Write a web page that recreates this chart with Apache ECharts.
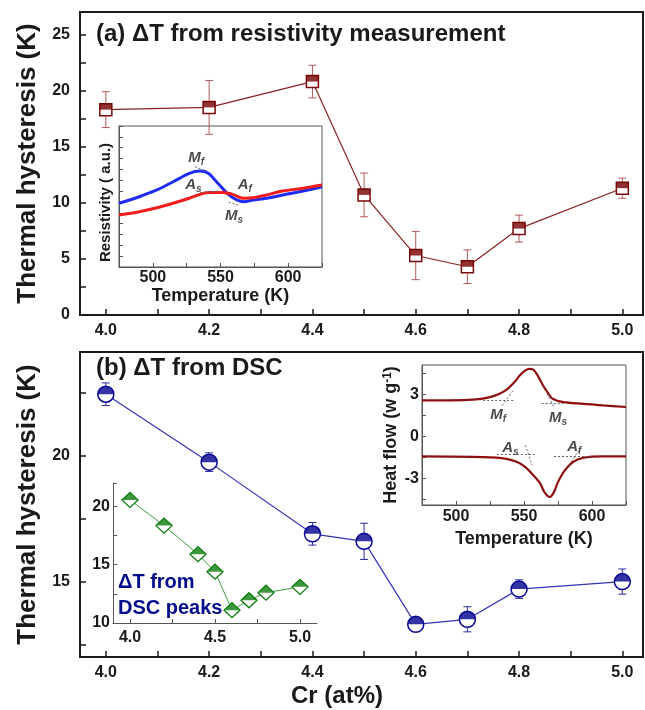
<!DOCTYPE html>
<html>
<head>
<meta charset="utf-8">
<script src="https://cdn.jsdelivr.net/npm/echarts@6/dist/echarts.min.js"></script>
<style>
  html, body { margin: 0; padding: 0; background: #fff; }
  #main { width: 645px; height: 710px; }
</style>
</head>
<body>
<div id="main"></div>
<script>
var dom = document.getElementById("main");
var myChart = echarts.init(dom, null, { renderer: "canvas" });

// ---- data ----
var cr = [4.0, 4.2, 4.4, 4.5, 4.6, 4.7, 4.8, 5.0];
var resHyst = [18.3, 18.5, 20.8, 10.7, 5.3, 4.3, 7.7, 11.3];
var resErr = [1.6, 2.4, 1.45, 1.95, 2.15, 1.5, 1.2, 0.9];
var dscHyst = [22.45, 19.75, 16.9, 16.6, 13.3, 13.5, 14.7, 15.0];
var dscErr = [0.45, 0.37, 0.45, 0.72, 0.25, 0.5, 0.37, 0.5];
var peakHyst = [20.55, 18.35, 15.9, 14.4, 11.1, 11.95, 12.6, 13.1];

// inset (a): resistivity vs temperature, [T, R]
var resCooling = [[475, 2.94], [490, 3.24], [503, 3.55], [515, 3.93], [527, 4.32], [535, 4.42],
  [541, 4.32], [547, 3.93], [552, 3.59], [557, 3.29], [562, 3.09], [567, 3.01], [574, 3.09],
  [584, 3.17], [596, 3.32], [611, 3.5], [625, 3.7]];
var resHeating = [[475, 2.4], [490, 2.55], [503, 2.73], [515, 2.94], [527, 3.17], [535, 3.35],
  [541, 3.44], [552, 3.44], [559, 3.35], [567, 3.17], [574, 3.19], [584, 3.32], [596, 3.5],
  [611, 3.63], [625, 3.78]];
var resNotes = [[532, 5.02, "M", "f"], [530, 3.8, "A", "s"], [568, 3.8, "A", "f"], [560, 2.35, "M", "s"]];
var resTangents = [[[535, 3.44], [550, 3.5]], [[556, 2.98], [563, 2.86]], [[531, 4.62], [540, 4.42]]];

// inset (b): DSC heat flow vs temperature, [T, W/g]
var dscCooling = [[475, 2.57], [496, 2.57], [515, 2.64], [525, 2.81], [532, 3.05], [538, 3.4],
  [543, 3.88], [547, 4.36], [551, 4.71], [554, 4.83], [557, 4.76], [560, 4.36], [564, 3.64],
  [568, 3.05], [571, 2.69], [579, 2.45], [594, 2.33], [608, 2.21], [625, 2.1]];
var dscHeating = [[475, -1.43], [520, -1.48], [537, -1.6], [545, -1.83], [551, -2.19], [557, -2.79],
  [562, -3.38], [565, -3.98], [569, -4.33], [572, -3.98], [575, -3.26], [580, -2.43], [586, -1.83],
  [594, -1.52], [608, -1.43], [625, -1.43]];
var dscNotes = [[531, 1.55, "M", "f"], [575, 1.3, "M", "s"], [540, -0.8, "A", "s"], [587, -0.72, "A", "f"]];
var dscTangents = [[[520, 2.57], [543, 2.57]], [[534, 2.21], [542, 3.29]], [[563, 2.38], [579, 2.38]],
  [[567, 3.05], [572, 2.1]], [[530, -1.31], [559, -1.31]], [[551, -0.64], [556, -2.07]],
  [[572, -1.43], [599, -1.43]], [[583, -2.07], [591, -0.88]]];

var crTicks = [4.0, 4.1, 4.2, 4.3, 4.4, 4.5, 4.6, 4.7, 4.8, 4.9, 5.0];
var crLabels = [4.0, 4.2, 4.4, 4.6, 4.8, 5.0];

var FONT = '"Liberation Sans", Arial, sans-serif';
var INK = "#1a1a1a";

function pairs(xs, ys) {
  return xs.map(function (x, i) { return [x, ys[i]]; });
}
function triples(xs, ys, es) {
  return xs.map(function (x, i) { return [x, ys[i], es[i]]; });
}

function errorBars(capW, color) {
  return function (params, api) {
    var x = api.value(0), y = api.value(1), e = api.value(2);
    var hi = api.coord([x, y + e]);
    var lo = api.coord([x, y - e]);
    var st = { stroke: color, lineWidth: 1 };
    return {
      type: "group",
      children: [
        { type: "line", shape: { x1: hi[0], y1: hi[1], x2: lo[0], y2: lo[1] }, style: st },
        { type: "line", shape: { x1: hi[0] - capW, y1: hi[1], x2: hi[0] + capW, y2: hi[1] }, style: st },
        { type: "line", shape: { x1: lo[0] - capW, y1: lo[1], x2: lo[0] + capW, y2: lo[1] }, style: st }
      ]
    };
  };
}

var noteRich = {
  m: { fontFamily: FONT, fontWeight: "bold", fontStyle: "italic", fontSize: 15, color: INK },
  s: { fontFamily: FONT, fontWeight: "bold", fontStyle: "italic", fontSize: 10, color: INK,
       verticalAlign: "bottom", padding: [9, 0, 0, 0] }
};
function noteSeries(notes, xi, yi) {
  return {
    type: "scatter", xAxisIndex: xi, yAxisIndex: yi, symbolSize: 1, silent: true, z: 6,
    itemStyle: { color: "transparent" },
    data: notes.map(function (n) { return { value: [n[0], n[1]], t: n[2], s: n[3] }; }),
    label: {
      show: true, position: "inside",
      formatter: function (p) { return "{m|" + p.data.t + "}{s|" + p.data.s + "}"; },
      rich: noteRich
    }
  };
}
function tangentSeries(segs, xi, yi) {
  return {
    type: "lines", coordinateSystem: "cartesian2d", xAxisIndex: xi, yAxisIndex: yi, z: 5, silent: true,
    lineStyle: { color: "#666", width: 1, type: [2, 2], opacity: 1 },
    data: segs.map(function (s) { return { coords: s }; })
  };
}

function mainX(grid) {
  return {
    gridIndex: grid, type: "value", min: 3.95, max: 5.04,
    axisLine: { onZero: false, lineStyle: { color: INK, width: 2 } },
    axisTick: { inside: true, length: 6, customValues: crTicks, lineStyle: { color: INK, width: 1.5 } },
    axisLabel: { customValues: crLabels, margin: 8, color: INK, fontFamily: FONT, fontWeight: "bold", fontSize: 16,
      formatter: function (v) { return v.toFixed(1); } },
    splitLine: { show: false }
  };
}
function insetAxisStyle() {
  return {
    axisLine: { onZero: false, lineStyle: { color: "#555", width: 1 } },
    splitLine: { show: false }
  };
}
var insetLabel = { color: INK, fontFamily: FONT, fontWeight: "bold", fontSize: 16 };
var insetName = { color: INK, fontFamily: FONT, fontWeight: "bold", fontSize: 18 };
var mainName = { color: INK, fontFamily: FONT, fontWeight: "bold", fontSize: 26 };

option = {
  animation: false,
  backgroundColor: "#fff",
  grid: [
    { left: 80, top: 12, width: 563, height: 303, show: true, borderColor: INK, borderWidth: 2 },
    { left: 119, top: 126, width: 203, height: 141, show: true, borderColor: "#555", borderWidth: 1 },
    { left: 80, top: 352, width: 563, height: 305, show: true, borderColor: INK, borderWidth: 2 },
    { left: 422, top: 365, width: 204, height: 140, show: true, borderColor: "#555", borderWidth: 1 },
    { left: 113, top: 483, width: 204, height: 140 }
  ],
  xAxis: [
    mainX(0),
    Object.assign(insetAxisStyle(), {
      gridIndex: 1, type: "value", min: 475, max: 625, interval: 25,
      axisTick: { inside: true, length: 4, lineStyle: { color: "#555" } },
      axisLabel: Object.assign({ margin: 3, formatter: function (v) { return v % 50 === 0 ? v : ""; } }, insetLabel),
      name: "Temperature (K)", nameLocation: "middle", nameGap: 16, nameTextStyle: insetName
    }),
    mainX(2),
    Object.assign(insetAxisStyle(), {
      gridIndex: 3, type: "value", min: 475, max: 625, interval: 25,
      axisTick: { inside: true, length: 4, lineStyle: { color: "#555" } },
      axisLabel: Object.assign({ margin: 4, formatter: function (v) { return v % 50 === 0 ? v : ""; } }, insetLabel),
      name: "Temperature (K)", nameLocation: "middle", nameGap: 25, nameTextStyle: insetName
    }),
    Object.assign(insetAxisStyle(), {
      gridIndex: 4, type: "value", min: 3.9, max: 5.1,
      axisTick: { inside: true, length: 4, customValues: [4.0, 4.25, 4.5, 4.75, 5.0], lineStyle: { color: "#555" } },
      axisLabel: Object.assign({ margin: 7, customValues: [4.0, 4.5, 5.0],
        formatter: function (v) { return v.toFixed(1); } }, insetLabel)
    })
  ],
  yAxis: [
    {
      gridIndex: 0, type: "value", min: 0, max: 27, interval: 2.5,
      axisLine: { onZero: false, lineStyle: { color: INK, width: 2 } },
      axisTick: { inside: true, length: 6, lineStyle: { color: INK, width: 1.5 } },
      axisLabel: { margin: 10, color: INK, fontFamily: FONT, fontWeight: "bold", fontSize: 16,
        formatter: function (v) { return v % 5 === 0 ? v : ""; } },
      splitLine: { show: false },
      name: "Thermal hysteresis (K)", nameLocation: "middle", nameGap: 38, nameTextStyle: mainName
    },
    Object.assign(insetAxisStyle(), {
      gridIndex: 1, type: "value", min: 0, max: 6.5, interval: 0.5,
      axisTick: { inside: true, length: 4, lineStyle: { color: "#555" } },
      axisLabel: { show: false },
      name: "Resistivity ( a.u.)", nameLocation: "middle", nameGap: 6,
      nameTextStyle: Object.assign({}, insetName, { fontSize: 15, padding: [0, 12, 0, 0] })
    }),
    {
      gridIndex: 2, type: "value", min: 12, max: 24.13,
      axisLine: { onZero: false, lineStyle: { color: INK, width: 2 } },
      axisTick: { inside: true, length: 6, customValues: [12.5, 15, 17.5, 20, 22.5], lineStyle: { color: INK, width: 1.5 } },
      axisLabel: { margin: 10, customValues: [15, 20], color: INK, fontFamily: FONT, fontWeight: "bold", fontSize: 16 },
      splitLine: { show: false },
      name: "Thermal hysteresis (K)", nameLocation: "middle", nameGap: 38, nameTextStyle: mainName
    },
    Object.assign(insetAxisStyle(), {
      gridIndex: 3, type: "value", min: -4.9, max: 5.1,
      axisTick: { inside: true, length: 4, customValues: [-4.5, -3, -1.5, 0, 1.5, 3, 4.5], lineStyle: { color: "#555" } },
      axisLabel: Object.assign({ margin: 3, customValues: [-3, 0, 3] }, insetLabel),
      name: "Heat flow (w g{sup|-1})", nameLocation: "middle", nameGap: 22,
      nameTextStyle: Object.assign({}, insetName, { fontSize: 18,
        rich: { sup: { fontFamily: FONT, fontWeight: "bold", fontSize: 12, color: INK, verticalAlign: "top" } } })
    }),
    Object.assign(insetAxisStyle(), {
      gridIndex: 4, type: "value", min: 10, max: 22, interval: 2.5,
      axisTick: { inside: true, length: 4, lineStyle: { color: "#555" } },
      axisLabel: Object.assign({ margin: 3, formatter: function (v) { return v % 5 === 0 ? v : ""; } }, insetLabel)
    })
  ],
  graphic: [
    { type: "text", left: 96, top: 22, z: 10,
      style: { text: "(a) \u0394T from resistivity measurement", fill: INK, font: "bold 24px " + FONT } },
    { type: "text", left: 96, top: 356, z: 10,
      style: { text: "(b) \u0394T from DSC", fill: INK, font: "bold 24px " + FONT } },
    { type: "text", left: 118, top: 569, z: 10,
      style: { text: "\u0394T from\nDSC peaks", fill: "#000c8c", font: "bold 20px " + FONT, lineHeight: 26 } },
    { type: "text", left: 291, top: 684, z: 10,
      style: { text: "Cr (at%)", fill: INK, font: "bold 24px " + FONT } }
  ],
  series: [
    // (a) resistivity hysteresis
    { type: "custom", xAxisIndex: 0, yAxisIndex: 0, z: 1, renderItem: errorBars(4, "#b05a5a"),
      encode: { x: 0, y: 1 }, data: triples(cr, resHyst, resErr) },
    { type: "line", xAxisIndex: 0, yAxisIndex: 0, z: 2, data: pairs(cr, resHyst),
      symbol: "rect", symbolSize: [12, 12],
      lineStyle: { color: "#8a2222", width: 1.2 },
      itemStyle: { color: "#fff", borderColor: "#7a0a0a", borderWidth: 1.5 } },
    { type: "scatter", xAxisIndex: 0, yAxisIndex: 0, z: 3, data: pairs(cr, resHyst),
      symbol: "rect", symbolSize: [12, 6], symbolOffset: [0, -3], itemStyle: { color: "#760000" } },

    // inset (a)
    { type: "line", xAxisIndex: 1, yAxisIndex: 1, data: resCooling, showSymbol: false, smooth: 0.3,
      lineStyle: { color: "#1c2cf5", width: 3 } },
    { type: "line", xAxisIndex: 1, yAxisIndex: 1, data: resHeating, showSymbol: false, smooth: 0.3,
      lineStyle: { color: "#f21c1c", width: 3 } },
    tangentSeries(resTangents, 1, 1),
    noteSeries(resNotes, 1, 1),

    // (b) DSC hysteresis
    { type: "custom", xAxisIndex: 2, yAxisIndex: 2, z: 1, renderItem: errorBars(4, "#2a2aa0"),
      encode: { x: 0, y: 1 }, data: triples(cr, dscHyst, dscErr) },
    { type: "line", xAxisIndex: 2, yAxisIndex: 2, z: 2, data: pairs(cr, dscHyst),
      symbol: "circle", symbolSize: 16,
      lineStyle: { color: "#3434b4", width: 1.2 },
      itemStyle: { color: "#fff", borderColor: "#0a0a9a", borderWidth: 1.5 } },
    { type: "scatter", xAxisIndex: 2, yAxisIndex: 2, z: 3, data: pairs(cr, dscHyst),
      symbol: "path://M0,10A10,10,0,0,1,20,10Z", symbolSize: [16, 8], symbolOffset: [0, -4],
      itemStyle: { color: "#00008c" } },

    // inset (b) DSC curves
    { type: "line", xAxisIndex: 3, yAxisIndex: 3, data: dscCooling, showSymbol: false, smooth: 0.3,
      lineStyle: { color: "#8e0f0f", width: 2.2 } },
    { type: "line", xAxisIndex: 3, yAxisIndex: 3, data: dscHeating, showSymbol: false, smooth: 0.3,
      lineStyle: { color: "#8e0f0f", width: 2.2 } },
    tangentSeries(dscTangents, 3, 3),
    noteSeries(dscNotes, 3, 3),

    // inset: DSC peaks
    { type: "line", xAxisIndex: 4, yAxisIndex: 4, z: 2, data: pairs(cr, peakHyst),
      symbol: "diamond", symbolSize: [16, 15],
      lineStyle: { color: "#3c9a3c", width: 1 },
      itemStyle: { color: "#fff", borderColor: "#0d7d0d", borderWidth: 1.3 } },
    { type: "scatter", xAxisIndex: 4, yAxisIndex: 4, z: 3, data: pairs(cr, peakHyst),
      symbol: "triangle", symbolSize: [16, 7.5], symbolOffset: [0, -3.75],
      itemStyle: { color: "#0d7d0d" } }
  ]
};

if (option && typeof option === "object") {
  myChart.setOption(option);
}

window.addEventListener("resize", myChart.resize);
</script>
</body>
</html>
